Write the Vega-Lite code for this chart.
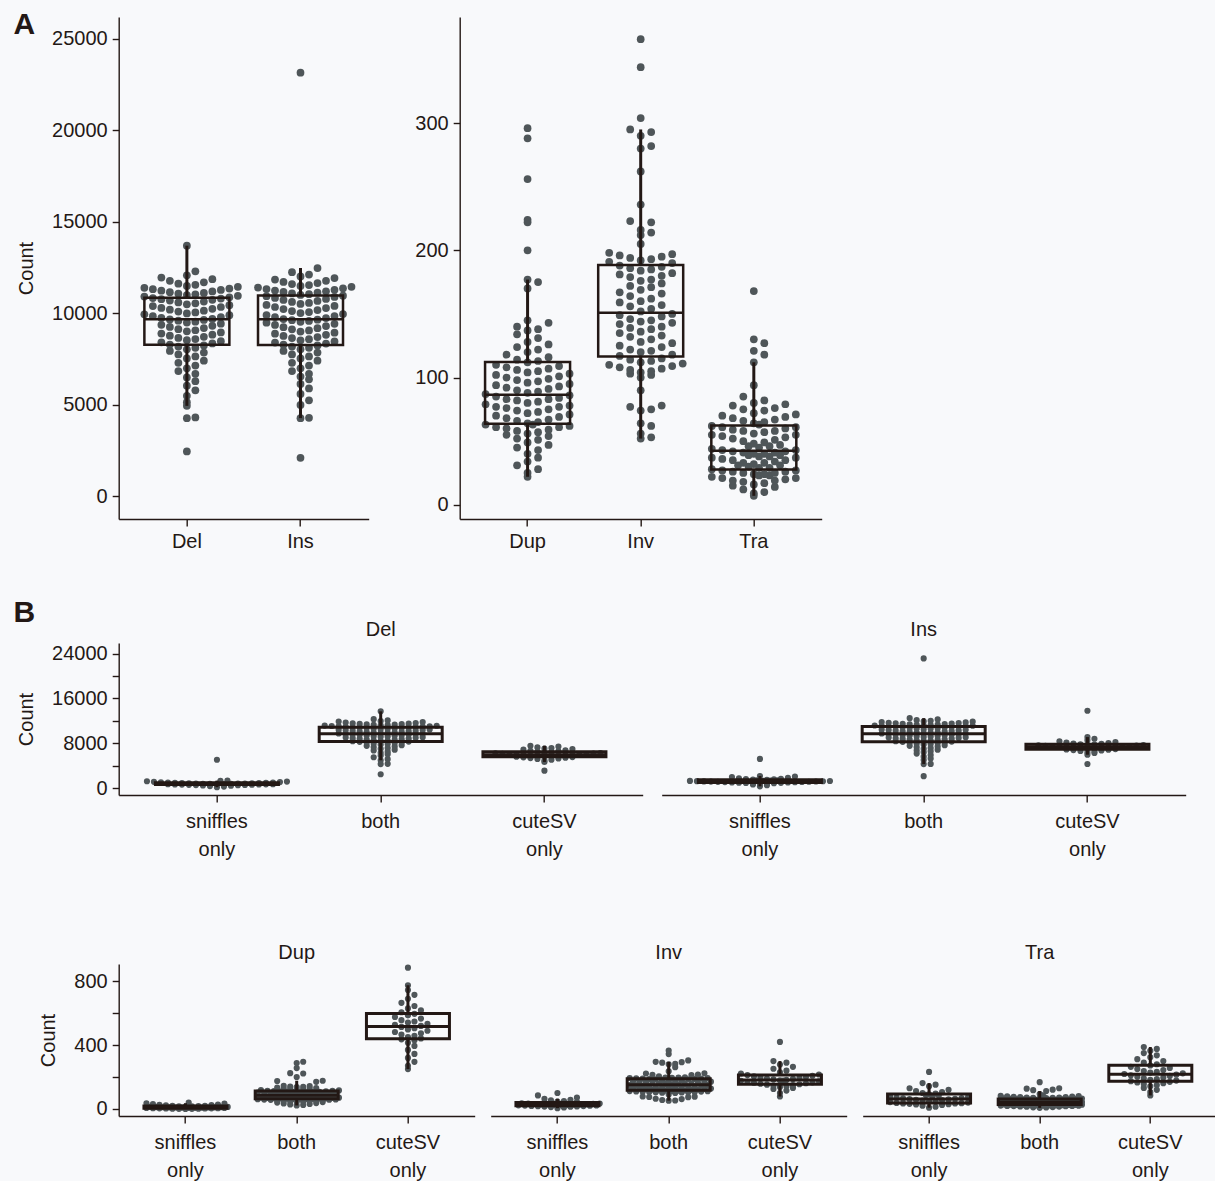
{
"$schema":"https://vega.github.io/schema/vega-lite/v6.json",
"background":"#f8f9fb",
"padding":{"left":12.7,"top":10,"right":0,"bottom":0},
"data":{"values":[
{"t":"Del","g":"b","v":2460},{"t":"Del","g":"b","v":4280},{"t":"Del","g":"b","v":4320},{"t":"Del","g":"b","v":4950},{"t":"Del","g":"b","v":5150},{"t":"Del","g":"b","v":5500},{"t":"Del","g":"b","v":5800},{"t":"Del","g":"b","v":6050},{"t":"Del","g":"b","v":6300},{"t":"Del","g":"b","v":6500},
{"t":"Del","g":"b","v":6700},{"t":"Del","g":"b","v":6850},{"t":"Del","g":"b","v":7000},{"t":"Del","g":"b","v":7150},{"t":"Del","g":"b","v":7300},{"t":"Del","g":"b","v":7420},{"t":"Del","g":"b","v":7540},{"t":"Del","g":"b","v":7650},{"t":"Del","g":"b","v":7760},{"t":"Del","g":"b","v":7860},
{"t":"Del","g":"b","v":7950},{"t":"Del","g":"b","v":8040},{"t":"Del","g":"b","v":8120},{"t":"Del","g":"b","v":8190},{"t":"Del","g":"b","v":8250},{"t":"Del","g":"b","v":8300},{"t":"Del","g":"b","v":8360},{"t":"Del","g":"b","v":8420},{"t":"Del","g":"b","v":8480},{"t":"Del","g":"b","v":8540},
{"t":"Del","g":"b","v":8600},{"t":"Del","g":"b","v":8660},{"t":"Del","g":"b","v":8720},{"t":"Del","g":"b","v":8780},{"t":"Del","g":"b","v":8840},{"t":"Del","g":"b","v":8900},{"t":"Del","g":"b","v":8960},{"t":"Del","g":"b","v":9020},{"t":"Del","g":"b","v":9080},{"t":"Del","g":"b","v":9140},
{"t":"Del","g":"b","v":9200},{"t":"Del","g":"b","v":9260},{"t":"Del","g":"b","v":9320},{"t":"Del","g":"b","v":9380},{"t":"Del","g":"b","v":9440},{"t":"Del","g":"b","v":9500},{"t":"Del","g":"b","v":9550},{"t":"Del","g":"b","v":9600},{"t":"Del","g":"b","v":9640},{"t":"Del","g":"b","v":9670},
{"t":"Del","g":"b","v":9700},{"t":"Del","g":"b","v":9750},{"t":"Del","g":"b","v":9800},{"t":"Del","g":"b","v":9850},{"t":"Del","g":"b","v":9900},{"t":"Del","g":"b","v":9950},{"t":"Del","g":"b","v":10000},{"t":"Del","g":"b","v":10050},{"t":"Del","g":"b","v":10100},{"t":"Del","g":"b","v":10150},
{"t":"Del","g":"b","v":10200},{"t":"Del","g":"b","v":10250},{"t":"Del","g":"b","v":10300},{"t":"Del","g":"b","v":10350},{"t":"Del","g":"b","v":10400},{"t":"Del","g":"b","v":10450},{"t":"Del","g":"b","v":10500},{"t":"Del","g":"b","v":10550},{"t":"Del","g":"b","v":10600},{"t":"Del","g":"b","v":10650},
{"t":"Del","g":"b","v":10700},{"t":"Del","g":"b","v":10740},{"t":"Del","g":"b","v":10780},{"t":"Del","g":"b","v":10810},{"t":"Del","g":"b","v":10840},{"t":"Del","g":"b","v":10880},{"t":"Del","g":"b","v":10920},{"t":"Del","g":"b","v":10960},{"t":"Del","g":"b","v":11000},{"t":"Del","g":"b","v":11040},
{"t":"Del","g":"b","v":11080},{"t":"Del","g":"b","v":11120},{"t":"Del","g":"b","v":11160},{"t":"Del","g":"b","v":11200},{"t":"Del","g":"b","v":11240},{"t":"Del","g":"b","v":11280},{"t":"Del","g":"b","v":11320},{"t":"Del","g":"b","v":11360},{"t":"Del","g":"b","v":11400},{"t":"Del","g":"b","v":11450},
{"t":"Del","g":"b","v":11500},{"t":"Del","g":"b","v":11560},{"t":"Del","g":"b","v":11620},{"t":"Del","g":"b","v":11700},{"t":"Del","g":"b","v":11780},{"t":"Del","g":"b","v":11870},{"t":"Del","g":"b","v":11960},{"t":"Del","g":"b","v":12080},{"t":"Del","g":"b","v":12300},{"t":"Del","g":"b","v":13700},
{"t":"Ins","g":"b","v":2110},{"t":"Ins","g":"b","v":4280},{"t":"Ins","g":"b","v":4300},{"t":"Ins","g":"b","v":5000},{"t":"Ins","g":"b","v":5250},{"t":"Ins","g":"b","v":5600},{"t":"Ins","g":"b","v":5900},{"t":"Ins","g":"b","v":6150},{"t":"Ins","g":"b","v":6400},{"t":"Ins","g":"b","v":6550},
{"t":"Ins","g":"b","v":6700},{"t":"Ins","g":"b","v":6850},{"t":"Ins","g":"b","v":7000},{"t":"Ins","g":"b","v":7150},{"t":"Ins","g":"b","v":7300},{"t":"Ins","g":"b","v":7420},{"t":"Ins","g":"b","v":7540},{"t":"Ins","g":"b","v":7650},{"t":"Ins","g":"b","v":7760},{"t":"Ins","g":"b","v":7860},
{"t":"Ins","g":"b","v":7950},{"t":"Ins","g":"b","v":8040},{"t":"Ins","g":"b","v":8120},{"t":"Ins","g":"b","v":8190},{"t":"Ins","g":"b","v":8250},{"t":"Ins","g":"b","v":8290},{"t":"Ins","g":"b","v":8350},{"t":"Ins","g":"b","v":8410},{"t":"Ins","g":"b","v":8470},{"t":"Ins","g":"b","v":8530},
{"t":"Ins","g":"b","v":8590},{"t":"Ins","g":"b","v":8650},{"t":"Ins","g":"b","v":8710},{"t":"Ins","g":"b","v":8770},{"t":"Ins","g":"b","v":8830},{"t":"Ins","g":"b","v":8890},{"t":"Ins","g":"b","v":8950},{"t":"Ins","g":"b","v":9010},{"t":"Ins","g":"b","v":9070},{"t":"Ins","g":"b","v":9130},
{"t":"Ins","g":"b","v":9190},{"t":"Ins","g":"b","v":9250},{"t":"Ins","g":"b","v":9310},{"t":"Ins","g":"b","v":9370},{"t":"Ins","g":"b","v":9430},{"t":"Ins","g":"b","v":9490},{"t":"Ins","g":"b","v":9540},{"t":"Ins","g":"b","v":9590},{"t":"Ins","g":"b","v":9630},{"t":"Ins","g":"b","v":9660},
{"t":"Ins","g":"b","v":9690},{"t":"Ins","g":"b","v":9745},{"t":"Ins","g":"b","v":9800},{"t":"Ins","g":"b","v":9855},{"t":"Ins","g":"b","v":9910},{"t":"Ins","g":"b","v":9965},{"t":"Ins","g":"b","v":10020},{"t":"Ins","g":"b","v":10075},{"t":"Ins","g":"b","v":10130},{"t":"Ins","g":"b","v":10185},
{"t":"Ins","g":"b","v":10240},{"t":"Ins","g":"b","v":10295},{"t":"Ins","g":"b","v":10350},{"t":"Ins","g":"b","v":10405},{"t":"Ins","g":"b","v":10460},{"t":"Ins","g":"b","v":10515},{"t":"Ins","g":"b","v":10570},{"t":"Ins","g":"b","v":10625},{"t":"Ins","g":"b","v":10680},{"t":"Ins","g":"b","v":10735},
{"t":"Ins","g":"b","v":10790},{"t":"Ins","g":"b","v":10845},{"t":"Ins","g":"b","v":10900},{"t":"Ins","g":"b","v":10940},{"t":"Ins","g":"b","v":10970},{"t":"Ins","g":"b","v":11010},{"t":"Ins","g":"b","v":11050},{"t":"Ins","g":"b","v":11090},{"t":"Ins","g":"b","v":11130},{"t":"Ins","g":"b","v":11170},
{"t":"Ins","g":"b","v":11210},{"t":"Ins","g":"b","v":11250},{"t":"Ins","g":"b","v":11290},{"t":"Ins","g":"b","v":11330},{"t":"Ins","g":"b","v":11370},{"t":"Ins","g":"b","v":11410},{"t":"Ins","g":"b","v":11450},{"t":"Ins","g":"b","v":11500},{"t":"Ins","g":"b","v":11550},{"t":"Ins","g":"b","v":11600},
{"t":"Ins","g":"b","v":11660},{"t":"Ins","g":"b","v":11720},{"t":"Ins","g":"b","v":11780},{"t":"Ins","g":"b","v":11850},{"t":"Ins","g":"b","v":11930},{"t":"Ins","g":"b","v":12020},{"t":"Ins","g":"b","v":12120},{"t":"Ins","g":"b","v":12250},{"t":"Ins","g":"b","v":12480},{"t":"Ins","g":"b","v":23150},
{"t":"Dup","g":"b","v":22},{"t":"Dup","g":"b","v":25},{"t":"Dup","g":"b","v":28},{"t":"Dup","g":"b","v":31},{"t":"Dup","g":"b","v":34},{"t":"Dup","g":"b","v":37},{"t":"Dup","g":"b","v":40},{"t":"Dup","g":"b","v":43},{"t":"Dup","g":"b","v":45},{"t":"Dup","g":"b","v":47},
{"t":"Dup","g":"b","v":49},{"t":"Dup","g":"b","v":51},{"t":"Dup","g":"b","v":52},{"t":"Dup","g":"b","v":54},{"t":"Dup","g":"b","v":55},{"t":"Dup","g":"b","v":56},{"t":"Dup","g":"b","v":57},{"t":"Dup","g":"b","v":58},{"t":"Dup","g":"b","v":59},{"t":"Dup","g":"b","v":60},
{"t":"Dup","g":"b","v":61},{"t":"Dup","g":"b","v":61},{"t":"Dup","g":"b","v":62},{"t":"Dup","g":"b","v":63},{"t":"Dup","g":"b","v":63},{"t":"Dup","g":"b","v":64},{"t":"Dup","g":"b","v":65},{"t":"Dup","g":"b","v":66},{"t":"Dup","g":"b","v":67},{"t":"Dup","g":"b","v":68},
{"t":"Dup","g":"b","v":69},{"t":"Dup","g":"b","v":70},{"t":"Dup","g":"b","v":71},{"t":"Dup","g":"b","v":72},{"t":"Dup","g":"b","v":73},{"t":"Dup","g":"b","v":74},{"t":"Dup","g":"b","v":75},{"t":"Dup","g":"b","v":76},{"t":"Dup","g":"b","v":77},{"t":"Dup","g":"b","v":77},
{"t":"Dup","g":"b","v":78},{"t":"Dup","g":"b","v":79},{"t":"Dup","g":"b","v":80},{"t":"Dup","g":"b","v":81},{"t":"Dup","g":"b","v":82},{"t":"Dup","g":"b","v":83},{"t":"Dup","g":"b","v":83},{"t":"Dup","g":"b","v":84},{"t":"Dup","g":"b","v":85},{"t":"Dup","g":"b","v":86},
{"t":"Dup","g":"b","v":87},{"t":"Dup","g":"b","v":88},{"t":"Dup","g":"b","v":89},{"t":"Dup","g":"b","v":90},{"t":"Dup","g":"b","v":91},{"t":"Dup","g":"b","v":92},{"t":"Dup","g":"b","v":93},{"t":"Dup","g":"b","v":94},{"t":"Dup","g":"b","v":95},{"t":"Dup","g":"b","v":96},
{"t":"Dup","g":"b","v":97},{"t":"Dup","g":"b","v":98},{"t":"Dup","g":"b","v":99},{"t":"Dup","g":"b","v":100},{"t":"Dup","g":"b","v":101},{"t":"Dup","g":"b","v":102},{"t":"Dup","g":"b","v":103},{"t":"Dup","g":"b","v":104},{"t":"Dup","g":"b","v":105},{"t":"Dup","g":"b","v":106},
{"t":"Dup","g":"b","v":107},{"t":"Dup","g":"b","v":108},{"t":"Dup","g":"b","v":109},{"t":"Dup","g":"b","v":110},{"t":"Dup","g":"b","v":112},{"t":"Dup","g":"b","v":113},{"t":"Dup","g":"b","v":114},{"t":"Dup","g":"b","v":116},{"t":"Dup","g":"b","v":118},{"t":"Dup","g":"b","v":120},
{"t":"Dup","g":"b","v":122},{"t":"Dup","g":"b","v":124},{"t":"Dup","g":"b","v":126},{"t":"Dup","g":"b","v":128},{"t":"Dup","g":"b","v":131},{"t":"Dup","g":"b","v":134},{"t":"Dup","g":"b","v":137},{"t":"Dup","g":"b","v":138},{"t":"Dup","g":"b","v":140},{"t":"Dup","g":"b","v":143},
{"t":"Dup","g":"b","v":145},{"t":"Dup","g":"b","v":170},{"t":"Dup","g":"b","v":175},{"t":"Dup","g":"b","v":177},{"t":"Dup","g":"b","v":200},{"t":"Dup","g":"b","v":222},{"t":"Dup","g":"b","v":224},{"t":"Dup","g":"b","v":256},{"t":"Dup","g":"b","v":288},{"t":"Dup","g":"b","v":296},
{"t":"Inv","g":"b","v":52},{"t":"Inv","g":"b","v":53},{"t":"Inv","g":"b","v":56},{"t":"Inv","g":"b","v":62},{"t":"Inv","g":"b","v":64},{"t":"Inv","g":"b","v":74},{"t":"Inv","g":"b","v":75},{"t":"Inv","g":"b","v":77},{"t":"Inv","g":"b","v":78},{"t":"Inv","g":"b","v":90},
{"t":"Inv","g":"b","v":100},{"t":"Inv","g":"b","v":102},{"t":"Inv","g":"b","v":103},{"t":"Inv","g":"b","v":104},{"t":"Inv","g":"b","v":105},{"t":"Inv","g":"b","v":106},{"t":"Inv","g":"b","v":107},{"t":"Inv","g":"b","v":108},{"t":"Inv","g":"b","v":109},{"t":"Inv","g":"b","v":110},
{"t":"Inv","g":"b","v":111},{"t":"Inv","g":"b","v":112},{"t":"Inv","g":"b","v":113},{"t":"Inv","g":"b","v":114},{"t":"Inv","g":"b","v":115},{"t":"Inv","g":"b","v":117},{"t":"Inv","g":"b","v":118},{"t":"Inv","g":"b","v":120},{"t":"Inv","g":"b","v":121},{"t":"Inv","g":"b","v":122},
{"t":"Inv","g":"b","v":124},{"t":"Inv","g":"b","v":125},{"t":"Inv","g":"b","v":127},{"t":"Inv","g":"b","v":128},{"t":"Inv","g":"b","v":130},{"t":"Inv","g":"b","v":132},{"t":"Inv","g":"b","v":133},{"t":"Inv","g":"b","v":135},{"t":"Inv","g":"b","v":136},{"t":"Inv","g":"b","v":138},
{"t":"Inv","g":"b","v":139},{"t":"Inv","g":"b","v":140},{"t":"Inv","g":"b","v":142},{"t":"Inv","g":"b","v":143},{"t":"Inv","g":"b","v":144},{"t":"Inv","g":"b","v":145},{"t":"Inv","g":"b","v":146},{"t":"Inv","g":"b","v":148},{"t":"Inv","g":"b","v":149},{"t":"Inv","g":"b","v":150},
{"t":"Inv","g":"b","v":152},{"t":"Inv","g":"b","v":154},{"t":"Inv","g":"b","v":156},{"t":"Inv","g":"b","v":157},{"t":"Inv","g":"b","v":159},{"t":"Inv","g":"b","v":160},{"t":"Inv","g":"b","v":162},{"t":"Inv","g":"b","v":164},{"t":"Inv","g":"b","v":166},{"t":"Inv","g":"b","v":167},
{"t":"Inv","g":"b","v":169},{"t":"Inv","g":"b","v":171},{"t":"Inv","g":"b","v":172},{"t":"Inv","g":"b","v":174},{"t":"Inv","g":"b","v":176},{"t":"Inv","g":"b","v":177},{"t":"Inv","g":"b","v":179},{"t":"Inv","g":"b","v":180},{"t":"Inv","g":"b","v":181},{"t":"Inv","g":"b","v":182},
{"t":"Inv","g":"b","v":184},{"t":"Inv","g":"b","v":185},{"t":"Inv","g":"b","v":186},{"t":"Inv","g":"b","v":187},{"t":"Inv","g":"b","v":188},{"t":"Inv","g":"b","v":190},{"t":"Inv","g":"b","v":191},{"t":"Inv","g":"b","v":192},{"t":"Inv","g":"b","v":193},{"t":"Inv","g":"b","v":194},
{"t":"Inv","g":"b","v":195},{"t":"Inv","g":"b","v":196},{"t":"Inv","g":"b","v":197},{"t":"Inv","g":"b","v":198},{"t":"Inv","g":"b","v":205},{"t":"Inv","g":"b","v":212},{"t":"Inv","g":"b","v":214},{"t":"Inv","g":"b","v":216},{"t":"Inv","g":"b","v":222},{"t":"Inv","g":"b","v":223},
{"t":"Inv","g":"b","v":236},{"t":"Inv","g":"b","v":262},{"t":"Inv","g":"b","v":280},{"t":"Inv","g":"b","v":282},{"t":"Inv","g":"b","v":290},{"t":"Inv","g":"b","v":293},{"t":"Inv","g":"b","v":295},{"t":"Inv","g":"b","v":304},{"t":"Inv","g":"b","v":344},{"t":"Inv","g":"b","v":366},
{"t":"Tra","g":"b","v":7},{"t":"Tra","g":"b","v":9},{"t":"Tra","g":"b","v":10},{"t":"Tra","g":"b","v":12},{"t":"Tra","g":"b","v":14},{"t":"Tra","g":"b","v":15},{"t":"Tra","g":"b","v":16},{"t":"Tra","g":"b","v":17},{"t":"Tra","g":"b","v":18},{"t":"Tra","g":"b","v":19},
{"t":"Tra","g":"b","v":19},{"t":"Tra","g":"b","v":20},{"t":"Tra","g":"b","v":21},{"t":"Tra","g":"b","v":21},{"t":"Tra","g":"b","v":22},{"t":"Tra","g":"b","v":23},{"t":"Tra","g":"b","v":23},{"t":"Tra","g":"b","v":24},{"t":"Tra","g":"b","v":24},{"t":"Tra","g":"b","v":25},
{"t":"Tra","g":"b","v":25},{"t":"Tra","g":"b","v":26},{"t":"Tra","g":"b","v":26},{"t":"Tra","g":"b","v":27},{"t":"Tra","g":"b","v":27},{"t":"Tra","g":"b","v":28},{"t":"Tra","g":"b","v":29},{"t":"Tra","g":"b","v":29},{"t":"Tra","g":"b","v":30},{"t":"Tra","g":"b","v":31},
{"t":"Tra","g":"b","v":31},{"t":"Tra","g":"b","v":32},{"t":"Tra","g":"b","v":33},{"t":"Tra","g":"b","v":33},{"t":"Tra","g":"b","v":34},{"t":"Tra","g":"b","v":35},{"t":"Tra","g":"b","v":35},{"t":"Tra","g":"b","v":36},{"t":"Tra","g":"b","v":37},{"t":"Tra","g":"b","v":37},
{"t":"Tra","g":"b","v":38},{"t":"Tra","g":"b","v":38},{"t":"Tra","g":"b","v":39},{"t":"Tra","g":"b","v":39},{"t":"Tra","g":"b","v":40},{"t":"Tra","g":"b","v":40},{"t":"Tra","g":"b","v":41},{"t":"Tra","g":"b","v":41},{"t":"Tra","g":"b","v":42},{"t":"Tra","g":"b","v":42},
{"t":"Tra","g":"b","v":43},{"t":"Tra","g":"b","v":43},{"t":"Tra","g":"b","v":44},{"t":"Tra","g":"b","v":45},{"t":"Tra","g":"b","v":46},{"t":"Tra","g":"b","v":46},{"t":"Tra","g":"b","v":47},{"t":"Tra","g":"b","v":48},{"t":"Tra","g":"b","v":49},{"t":"Tra","g":"b","v":50},
{"t":"Tra","g":"b","v":51},{"t":"Tra","g":"b","v":52},{"t":"Tra","g":"b","v":53},{"t":"Tra","g":"b","v":54},{"t":"Tra","g":"b","v":55},{"t":"Tra","g":"b","v":55},{"t":"Tra","g":"b","v":56},{"t":"Tra","g":"b","v":57},{"t":"Tra","g":"b","v":58},{"t":"Tra","g":"b","v":58},
{"t":"Tra","g":"b","v":59},{"t":"Tra","g":"b","v":60},{"t":"Tra","g":"b","v":61},{"t":"Tra","g":"b","v":61},{"t":"Tra","g":"b","v":62},{"t":"Tra","g":"b","v":63},{"t":"Tra","g":"b","v":64},{"t":"Tra","g":"b","v":65},{"t":"Tra","g":"b","v":66},{"t":"Tra","g":"b","v":67},
{"t":"Tra","g":"b","v":68},{"t":"Tra","g":"b","v":69},{"t":"Tra","g":"b","v":70},{"t":"Tra","g":"b","v":71},{"t":"Tra","g":"b","v":72},{"t":"Tra","g":"b","v":74},{"t":"Tra","g":"b","v":75},{"t":"Tra","g":"b","v":76},{"t":"Tra","g":"b","v":78},{"t":"Tra","g":"b","v":79},
{"t":"Tra","g":"b","v":80},{"t":"Tra","g":"b","v":82},{"t":"Tra","g":"b","v":85},{"t":"Tra","g":"b","v":94},{"t":"Tra","g":"b","v":112},{"t":"Tra","g":"b","v":118},{"t":"Tra","g":"b","v":121},{"t":"Tra","g":"b","v":127},{"t":"Tra","g":"b","v":130},{"t":"Tra","g":"b","v":168},
{"t":"Del","g":"s","v":150},{"t":"Del","g":"s","v":260},{"t":"Del","g":"s","v":340},{"t":"Del","g":"s","v":400},{"t":"Del","g":"s","v":450},{"t":"Del","g":"s","v":490},{"t":"Del","g":"s","v":520},{"t":"Del","g":"s","v":545},{"t":"Del","g":"s","v":570},{"t":"Del","g":"s","v":590},
{"t":"Del","g":"s","v":610},{"t":"Del","g":"s","v":625},{"t":"Del","g":"s","v":640},{"t":"Del","g":"s","v":655},{"t":"Del","g":"s","v":670},{"t":"Del","g":"s","v":685},{"t":"Del","g":"s","v":700},{"t":"Del","g":"s","v":715},{"t":"Del","g":"s","v":730},{"t":"Del","g":"s","v":745},
{"t":"Del","g":"s","v":760},{"t":"Del","g":"s","v":775},{"t":"Del","g":"s","v":790},{"t":"Del","g":"s","v":805},{"t":"Del","g":"s","v":820},{"t":"Del","g":"s","v":840},{"t":"Del","g":"s","v":860},{"t":"Del","g":"s","v":880},{"t":"Del","g":"s","v":905},{"t":"Del","g":"s","v":930},
{"t":"Del","g":"s","v":960},{"t":"Del","g":"s","v":990},{"t":"Del","g":"s","v":1020},{"t":"Del","g":"s","v":1060},{"t":"Del","g":"s","v":1100},{"t":"Del","g":"s","v":1150},{"t":"Del","g":"s","v":1200},{"t":"Del","g":"s","v":1260},{"t":"Del","g":"s","v":1320},{"t":"Del","g":"s","v":5050},
{"t":"Del","g":"c","v":3100},{"t":"Del","g":"c","v":4650},{"t":"Del","g":"c","v":4900},{"t":"Del","g":"c","v":5050},{"t":"Del","g":"c","v":5180},{"t":"Del","g":"c","v":5270},{"t":"Del","g":"c","v":5350},{"t":"Del","g":"c","v":5420},{"t":"Del","g":"c","v":5480},{"t":"Del","g":"c","v":5530},
{"t":"Del","g":"c","v":5580},{"t":"Del","g":"c","v":5620},{"t":"Del","g":"c","v":5660},{"t":"Del","g":"c","v":5700},{"t":"Del","g":"c","v":5740},{"t":"Del","g":"c","v":5780},{"t":"Del","g":"c","v":5820},{"t":"Del","g":"c","v":5860},{"t":"Del","g":"c","v":5900},{"t":"Del","g":"c","v":5940},
{"t":"Del","g":"c","v":5980},{"t":"Del","g":"c","v":6020},{"t":"Del","g":"c","v":6060},{"t":"Del","g":"c","v":6100},{"t":"Del","g":"c","v":6150},{"t":"Del","g":"c","v":6200},{"t":"Del","g":"c","v":6260},{"t":"Del","g":"c","v":6320},{"t":"Del","g":"c","v":6400},{"t":"Del","g":"c","v":6480},
{"t":"Del","g":"c","v":6560},{"t":"Del","g":"c","v":6650},{"t":"Del","g":"c","v":6750},{"t":"Del","g":"c","v":6850},{"t":"Del","g":"c","v":6950},{"t":"Del","g":"c","v":7050},{"t":"Del","g":"c","v":7150},{"t":"Del","g":"c","v":7250},{"t":"Del","g":"c","v":7400},{"t":"Del","g":"c","v":7550},
{"t":"Ins","g":"s","v":300},{"t":"Ins","g":"s","v":500},{"t":"Ins","g":"s","v":620},{"t":"Ins","g":"s","v":700},{"t":"Ins","g":"s","v":760},{"t":"Ins","g":"s","v":810},{"t":"Ins","g":"s","v":850},{"t":"Ins","g":"s","v":890},{"t":"Ins","g":"s","v":920},{"t":"Ins","g":"s","v":950},
{"t":"Ins","g":"s","v":980},{"t":"Ins","g":"s","v":1005},{"t":"Ins","g":"s","v":1030},{"t":"Ins","g":"s","v":1055},{"t":"Ins","g":"s","v":1080},{"t":"Ins","g":"s","v":1100},{"t":"Ins","g":"s","v":1120},{"t":"Ins","g":"s","v":1140},{"t":"Ins","g":"s","v":1160},{"t":"Ins","g":"s","v":1180},
{"t":"Ins","g":"s","v":1200},{"t":"Ins","g":"s","v":1220},{"t":"Ins","g":"s","v":1245},{"t":"Ins","g":"s","v":1270},{"t":"Ins","g":"s","v":1295},{"t":"Ins","g":"s","v":1320},{"t":"Ins","g":"s","v":1350},{"t":"Ins","g":"s","v":1380},{"t":"Ins","g":"s","v":1410},{"t":"Ins","g":"s","v":1450},
{"t":"Ins","g":"s","v":1490},{"t":"Ins","g":"s","v":1540},{"t":"Ins","g":"s","v":1600},{"t":"Ins","g":"s","v":1660},{"t":"Ins","g":"s","v":1740},{"t":"Ins","g":"s","v":1830},{"t":"Ins","g":"s","v":1950},{"t":"Ins","g":"s","v":2050},{"t":"Ins","g":"s","v":2150},{"t":"Ins","g":"s","v":5200},
{"t":"Ins","g":"c","v":4290},{"t":"Ins","g":"c","v":5950},{"t":"Ins","g":"c","v":6250},{"t":"Ins","g":"c","v":6400},{"t":"Ins","g":"c","v":6520},{"t":"Ins","g":"c","v":6620},{"t":"Ins","g":"c","v":6700},{"t":"Ins","g":"c","v":6770},{"t":"Ins","g":"c","v":6840},{"t":"Ins","g":"c","v":6900},
{"t":"Ins","g":"c","v":6960},{"t":"Ins","g":"c","v":7010},{"t":"Ins","g":"c","v":7060},{"t":"Ins","g":"c","v":7110},{"t":"Ins","g":"c","v":7160},{"t":"Ins","g":"c","v":7200},{"t":"Ins","g":"c","v":7240},{"t":"Ins","g":"c","v":7280},{"t":"Ins","g":"c","v":7320},{"t":"Ins","g":"c","v":7360},
{"t":"Ins","g":"c","v":7400},{"t":"Ins","g":"c","v":7440},{"t":"Ins","g":"c","v":7480},{"t":"Ins","g":"c","v":7520},{"t":"Ins","g":"c","v":7560},{"t":"Ins","g":"c","v":7610},{"t":"Ins","g":"c","v":7660},{"t":"Ins","g":"c","v":7710},{"t":"Ins","g":"c","v":7760},{"t":"Ins","g":"c","v":7820},
{"t":"Ins","g":"c","v":7880},{"t":"Ins","g":"c","v":7950},{"t":"Ins","g":"c","v":8030},{"t":"Ins","g":"c","v":8120},{"t":"Ins","g":"c","v":8220},{"t":"Ins","g":"c","v":8350},{"t":"Ins","g":"c","v":8550},{"t":"Ins","g":"c","v":8800},{"t":"Ins","g":"c","v":9100},{"t":"Ins","g":"c","v":13800},
{"t":"Dup","g":"s","v":0},{"t":"Dup","g":"s","v":1},{"t":"Dup","g":"s","v":1},{"t":"Dup","g":"s","v":2},{"t":"Dup","g":"s","v":2},{"t":"Dup","g":"s","v":3},{"t":"Dup","g":"s","v":3},{"t":"Dup","g":"s","v":4},{"t":"Dup","g":"s","v":4},{"t":"Dup","g":"s","v":5},
{"t":"Dup","g":"s","v":5},{"t":"Dup","g":"s","v":6},{"t":"Dup","g":"s","v":6},{"t":"Dup","g":"s","v":7},{"t":"Dup","g":"s","v":7},{"t":"Dup","g":"s","v":8},{"t":"Dup","g":"s","v":8},{"t":"Dup","g":"s","v":9},{"t":"Dup","g":"s","v":9},{"t":"Dup","g":"s","v":10},
{"t":"Dup","g":"s","v":10},{"t":"Dup","g":"s","v":11},{"t":"Dup","g":"s","v":11},{"t":"Dup","g":"s","v":12},{"t":"Dup","g":"s","v":13},{"t":"Dup","g":"s","v":14},{"t":"Dup","g":"s","v":15},{"t":"Dup","g":"s","v":16},{"t":"Dup","g":"s","v":17},{"t":"Dup","g":"s","v":18},
{"t":"Dup","g":"s","v":19},{"t":"Dup","g":"s","v":20},{"t":"Dup","g":"s","v":22},{"t":"Dup","g":"s","v":24},{"t":"Dup","g":"s","v":26},{"t":"Dup","g":"s","v":28},{"t":"Dup","g":"s","v":30},{"t":"Dup","g":"s","v":33},{"t":"Dup","g":"s","v":36},{"t":"Dup","g":"s","v":40},
{"t":"Dup","g":"c","v":250},{"t":"Dup","g":"c","v":270},{"t":"Dup","g":"c","v":295},{"t":"Dup","g":"c","v":320},{"t":"Dup","g":"c","v":345},{"t":"Dup","g":"c","v":370},{"t":"Dup","g":"c","v":395},{"t":"Dup","g":"c","v":415},{"t":"Dup","g":"c","v":430},{"t":"Dup","g":"c","v":436},
{"t":"Dup","g":"c","v":442},{"t":"Dup","g":"c","v":450},{"t":"Dup","g":"c","v":458},{"t":"Dup","g":"c","v":466},{"t":"Dup","g":"c","v":474},{"t":"Dup","g":"c","v":482},{"t":"Dup","g":"c","v":490},{"t":"Dup","g":"c","v":498},{"t":"Dup","g":"c","v":506},{"t":"Dup","g":"c","v":514},
{"t":"Dup","g":"c","v":520},{"t":"Dup","g":"c","v":527},{"t":"Dup","g":"c","v":534},{"t":"Dup","g":"c","v":541},{"t":"Dup","g":"c","v":548},{"t":"Dup","g":"c","v":556},{"t":"Dup","g":"c","v":566},{"t":"Dup","g":"c","v":576},{"t":"Dup","g":"c","v":586},{"t":"Dup","g":"c","v":596},
{"t":"Dup","g":"c","v":606},{"t":"Dup","g":"c","v":618},{"t":"Dup","g":"c","v":630},{"t":"Dup","g":"c","v":645},{"t":"Dup","g":"c","v":665},{"t":"Dup","g":"c","v":690},{"t":"Dup","g":"c","v":715},{"t":"Dup","g":"c","v":745},{"t":"Dup","g":"c","v":775},{"t":"Dup","g":"c","v":885},
{"t":"Inv","g":"s","v":5},{"t":"Inv","g":"s","v":9},{"t":"Inv","g":"s","v":12},{"t":"Inv","g":"s","v":14},{"t":"Inv","g":"s","v":15},{"t":"Inv","g":"s","v":16},{"t":"Inv","g":"s","v":17},{"t":"Inv","g":"s","v":18},{"t":"Inv","g":"s","v":19},{"t":"Inv","g":"s","v":20},
{"t":"Inv","g":"s","v":21},{"t":"Inv","g":"s","v":22},{"t":"Inv","g":"s","v":23},{"t":"Inv","g":"s","v":24},{"t":"Inv","g":"s","v":25},{"t":"Inv","g":"s","v":26},{"t":"Inv","g":"s","v":27},{"t":"Inv","g":"s","v":28},{"t":"Inv","g":"s","v":28},{"t":"Inv","g":"s","v":29},
{"t":"Inv","g":"s","v":30},{"t":"Inv","g":"s","v":31},{"t":"Inv","g":"s","v":32},{"t":"Inv","g":"s","v":33},{"t":"Inv","g":"s","v":34},{"t":"Inv","g":"s","v":35},{"t":"Inv","g":"s","v":36},{"t":"Inv","g":"s","v":37},{"t":"Inv","g":"s","v":38},{"t":"Inv","g":"s","v":40},
{"t":"Inv","g":"s","v":42},{"t":"Inv","g":"s","v":44},{"t":"Inv","g":"s","v":47},{"t":"Inv","g":"s","v":50},{"t":"Inv","g":"s","v":54},{"t":"Inv","g":"s","v":58},{"t":"Inv","g":"s","v":64},{"t":"Inv","g":"s","v":72},{"t":"Inv","g":"s","v":85},{"t":"Inv","g":"s","v":100},
{"t":"Inv","g":"c","v":78},{"t":"Inv","g":"c","v":100},{"t":"Inv","g":"c","v":115},{"t":"Inv","g":"c","v":125},{"t":"Inv","g":"c","v":132},{"t":"Inv","g":"c","v":138},{"t":"Inv","g":"c","v":142},{"t":"Inv","g":"c","v":146},{"t":"Inv","g":"c","v":149},{"t":"Inv","g":"c","v":152},
{"t":"Inv","g":"c","v":155},{"t":"Inv","g":"c","v":158},{"t":"Inv","g":"c","v":161},{"t":"Inv","g":"c","v":164},{"t":"Inv","g":"c","v":167},{"t":"Inv","g":"c","v":170},{"t":"Inv","g":"c","v":173},{"t":"Inv","g":"c","v":176},{"t":"Inv","g":"c","v":178},{"t":"Inv","g":"c","v":180},
{"t":"Inv","g":"c","v":182},{"t":"Inv","g":"c","v":185},{"t":"Inv","g":"c","v":188},{"t":"Inv","g":"c","v":191},{"t":"Inv","g":"c","v":194},{"t":"Inv","g":"c","v":197},{"t":"Inv","g":"c","v":200},{"t":"Inv","g":"c","v":204},{"t":"Inv","g":"c","v":208},{"t":"Inv","g":"c","v":212},
{"t":"Inv","g":"c","v":216},{"t":"Inv","g":"c","v":222},{"t":"Inv","g":"c","v":230},{"t":"Inv","g":"c","v":240},{"t":"Inv","g":"c","v":252},{"t":"Inv","g":"c","v":264},{"t":"Inv","g":"c","v":278},{"t":"Inv","g":"c","v":290},{"t":"Inv","g":"c","v":300},{"t":"Inv","g":"c","v":420},
{"t":"Tra","g":"s","v":8},{"t":"Tra","g":"s","v":14},{"t":"Tra","g":"s","v":20},{"t":"Tra","g":"s","v":25},{"t":"Tra","g":"s","v":28},{"t":"Tra","g":"s","v":30},{"t":"Tra","g":"s","v":32},{"t":"Tra","g":"s","v":34},{"t":"Tra","g":"s","v":35},{"t":"Tra","g":"s","v":36},
{"t":"Tra","g":"s","v":38},{"t":"Tra","g":"s","v":40},{"t":"Tra","g":"s","v":43},{"t":"Tra","g":"s","v":46},{"t":"Tra","g":"s","v":49},{"t":"Tra","g":"s","v":52},{"t":"Tra","g":"s","v":55},{"t":"Tra","g":"s","v":58},{"t":"Tra","g":"s","v":60},{"t":"Tra","g":"s","v":62},
{"t":"Tra","g":"s","v":64},{"t":"Tra","g":"s","v":66},{"t":"Tra","g":"s","v":68},{"t":"Tra","g":"s","v":71},{"t":"Tra","g":"s","v":74},{"t":"Tra","g":"s","v":77},{"t":"Tra","g":"s","v":80},{"t":"Tra","g":"s","v":84},{"t":"Tra","g":"s","v":88},{"t":"Tra","g":"s","v":92},
{"t":"Tra","g":"s","v":96},{"t":"Tra","g":"s","v":100},{"t":"Tra","g":"s","v":105},{"t":"Tra","g":"s","v":112},{"t":"Tra","g":"s","v":120},{"t":"Tra","g":"s","v":130},{"t":"Tra","g":"s","v":142},{"t":"Tra","g":"s","v":152},{"t":"Tra","g":"s","v":162},{"t":"Tra","g":"s","v":232},
{"t":"Tra","g":"c","v":85},{"t":"Tra","g":"c","v":105},{"t":"Tra","g":"c","v":120},{"t":"Tra","g":"c","v":132},{"t":"Tra","g":"c","v":142},{"t":"Tra","g":"c","v":150},{"t":"Tra","g":"c","v":156},{"t":"Tra","g":"c","v":161},{"t":"Tra","g":"c","v":166},{"t":"Tra","g":"c","v":170},
{"t":"Tra","g":"c","v":174},{"t":"Tra","g":"c","v":178},{"t":"Tra","g":"c","v":182},{"t":"Tra","g":"c","v":187},{"t":"Tra","g":"c","v":192},{"t":"Tra","g":"c","v":197},{"t":"Tra","g":"c","v":202},{"t":"Tra","g":"c","v":207},{"t":"Tra","g":"c","v":211},{"t":"Tra","g":"c","v":215},
{"t":"Tra","g":"c","v":219},{"t":"Tra","g":"c","v":223},{"t":"Tra","g":"c","v":228},{"t":"Tra","g":"c","v":233},{"t":"Tra","g":"c","v":238},{"t":"Tra","g":"c","v":244},{"t":"Tra","g":"c","v":250},{"t":"Tra","g":"c","v":257},{"t":"Tra","g":"c","v":264},{"t":"Tra","g":"c","v":272},
{"t":"Tra","g":"c","v":280},{"t":"Tra","g":"c","v":290},{"t":"Tra","g":"c","v":300},{"t":"Tra","g":"c","v":312},{"t":"Tra","g":"c","v":324},{"t":"Tra","g":"c","v":336},{"t":"Tra","g":"c","v":350},{"t":"Tra","g":"c","v":364},{"t":"Tra","g":"c","v":376},{"t":"Tra","g":"c","v":388}
]},
"spacing":45,
"resolve":{"scale":{"xOffset":"independent"}},
"vconcat":[
{
"title":{"text":"A","anchor":"start","frame":"group","dx":-105.3,"offset":-47,"baseline":"alphabetic","fontSize":30,"fontWeight":"bold"},
"bounds":"flush","spacing":91,
"resolve":{"scale":{"xOffset":"independent"}},
"hconcat":[
{"width":250,"height":502,
"transform":[{"filter":"datum.g == 'b' && (datum.t == 'Del' || datum.t == 'Ins')"}],
"encoding":{
"x":{"field":"t","type":"nominal","title":null,"scale":{"type":"band","domain":["Del","Ins"],"paddingInner":0.25,"paddingOuter":0.225},"axis":{"labelAngle":0,"tickSize":7,"labelPadding":5.5}},
"y":{"field":"v","type":"quantitative","title":"Count","scale":{"domain":[-1230,26190],"nice":false,"zero":false},"axis":{"values":[0,5000,10000,15000,20000,25000],"format":"d","tickSize":6.5,"labelPadding":5,"titlePadding":15,"labelFlush":false,"labelOverlap":false}}},
"layer":[
{"transform":[{"bin":{"step":500,"anchor":0},"field":"v","as":"vb"},{"window":[{"op":"row_number","as":"r"}],"groupby":["t","g","vb"],"sort":[{"field":"v","order":"ascending"}]},{"calculate":"(datum.r - 1) % 13","as":"j"},{"calculate":"(datum.j % 2 == 1 ? (datum.j + 1) / 2 : -datum.j / 2) + (floor((datum.r - 1) / 13) % 2) * 0.5","as":"k"}],
"mark":{"type":"circle","size":60,"color":"#4f5659","opacity":1},
"encoding":{"xOffset":{"field":"k","type":"quantitative","scale":{"domain":[-10,10],"range":[-42.4,127.6],"nice":false,"zero":false}}}},
{"mark":{"type":"boxplot","extent":1.5,"size":85,"outliers":false,"box":{"fill":"transparent","stroke":"#231815","strokeWidth":2.5},"median":{"color":"#231815","thickness":2.5,"opacity":1},"rule":{"color":"#231815","strokeWidth":3}}}
]},
{"width":362,"height":502,
"transform":[{"filter":"datum.g == 'b' && (datum.t == 'Dup' || datum.t == 'Inv' || datum.t == 'Tra')"}],
"encoding":{
"x":{"field":"t","type":"nominal","title":null,"scale":{"type":"band","domain":["Dup","Inv","Tra"],"paddingInner":0.25,"paddingOuter":0.225},"axis":{"labelAngle":0,"tickSize":7,"labelPadding":5.5}},
"y":{"field":"v","type":"quantitative","title":null,"scale":{"domain":[-11.2,383.4],"nice":false,"zero":false},"axis":{"values":[0,100,200,300],"format":"d","tickSize":6.5,"labelPadding":5,"labelFlush":false,"labelOverlap":false}}},
"layer":[
{"transform":[{"bin":{"step":8,"anchor":0},"field":"v","as":"vb"},{"window":[{"op":"row_number","as":"r"}],"groupby":["t","g","vb"],"sort":[{"field":"v","order":"ascending"}]},{"calculate":"(datum.r - 1) % 9","as":"j"},{"calculate":"(datum.j % 2 == 1 ? (datum.j + 1) / 2 : -datum.j / 2) + (floor((datum.r - 1) / 9) % 2) * 0.5","as":"k"}],
"mark":{"type":"circle","size":60,"color":"#4f5659","opacity":1},
"encoding":{"xOffset":{"field":"k","type":"quantitative","scale":{"domain":[-10,10],"range":[-62.58,147.42],"nice":false,"zero":false}}}},
{"mark":{"type":"boxplot","extent":1.5,"size":85,"outliers":false,"box":{"fill":"transparent","stroke":"#231815","strokeWidth":2.5},"median":{"color":"#231815","thickness":2.5,"opacity":1},"rule":{"color":"#231815","strokeWidth":3}}}
]}
]},
{"spacing":82,
"resolve":{"scale":{"xOffset":"independent"}},
"vconcat":[
{
"title":{"text":"B","anchor":"start","frame":"group","dx":-105.3,"offset":-32,"baseline":"alphabetic","fontSize":30,"fontWeight":"bold"},
"bounds":"flush","spacing":19,
"resolve":{"scale":{"xOffset":"independent"}},
"hconcat":[
{"width":524,"height":152,
"title":{"text":"Del","frame":"group","anchor":"middle","offset":-16.7,"baseline":"bottom"},
"transform":[{"filter":"datum.t == 'Del'"}],
"encoding":{
"x":{"field":"g","type":"nominal","title":null,"scale":{"type":"band","domain":["s","b","c"],"paddingInner":0.25,"paddingOuter":0.225},"axis":{"labelAngle":0,"tickSize":7,"labelPadding":10,"labelLineHeight":28,"labelOverlap":false,"labelExpr":"datum.value == 's' ? ['sniffles', 'only'] : datum.value == 'c' ? ['cuteSV', 'only'] : 'both'"}},
"y":{"field":"v","type":"quantitative","title":"Count","scale":{"domain":[-1250,25910],"nice":false,"zero":false},"axis":{"values":[0,4000,8000,12000,16000,20000,24000],"format":"d","labelExpr":"datum.value % 8000 == 0 ? datum.label : ''","tickSize":6.5,"labelPadding":5,"titlePadding":15,"labelFlush":false,"labelOverlap":false}}},
"layer":[
{"transform":[{"bin":{"step":700,"anchor":0},"field":"v","as":"vb"},{"window":[{"op":"row_number","as":"r"}],"groupby":["t","g","vb"],"sort":[{"field":"v","order":"ascending"}]},{"calculate":"(datum.r - 1) % 21","as":"j"},{"calculate":"(datum.j % 2 == 1 ? (datum.j + 1) / 2 : -datum.j / 2) + (floor((datum.r - 1) / 21) % 2) * 0.5","as":"k"}],
"mark":{"type":"circle","size":38,"color":"#4f5659","opacity":1},
"encoding":{"xOffset":{"field":"k","type":"quantitative","scale":{"domain":[-10,10],"range":[-8.6,131.4],"nice":false,"zero":false}}}},
{"mark":{"type":"boxplot","extent":1.5,"size":123,"outliers":false,"box":{"fill":"transparent","stroke":"#231815","strokeWidth":3},"median":{"color":"#231815","thickness":3,"opacity":1},"rule":{"color":"#231815","strokeWidth":3}}}
]},
{"width":524,"height":152,
"title":{"text":"Ins","frame":"group","anchor":"middle","offset":-16.7,"baseline":"bottom"},
"transform":[{"filter":"datum.t == 'Ins'"}],
"encoding":{
"x":{"field":"g","type":"nominal","title":null,"scale":{"type":"band","domain":["s","b","c"],"paddingInner":0.25,"paddingOuter":0.225},"axis":{"labelAngle":0,"tickSize":7,"labelPadding":10,"labelLineHeight":28,"labelOverlap":false,"labelExpr":"datum.value == 's' ? ['sniffles', 'only'] : datum.value == 'c' ? ['cuteSV', 'only'] : 'both'"}},
"y":{"field":"v","type":"quantitative","title":null,"scale":{"domain":[-1250,25910],"nice":false,"zero":false},"axis":null}},
"layer":[
{"transform":[{"bin":{"step":700,"anchor":0},"field":"v","as":"vb"},{"window":[{"op":"row_number","as":"r"}],"groupby":["t","g","vb"],"sort":[{"field":"v","order":"ascending"}]},{"calculate":"(datum.r - 1) % 21","as":"j"},{"calculate":"(datum.j % 2 == 1 ? (datum.j + 1) / 2 : -datum.j / 2) + (floor((datum.r - 1) / 21) % 2) * 0.5","as":"k"}],
"mark":{"type":"circle","size":38,"color":"#4f5659","opacity":1},
"encoding":{"xOffset":{"field":"k","type":"quantitative","scale":{"domain":[-10,10],"range":[-8.6,131.4],"nice":false,"zero":false}}}},
{"mark":{"type":"boxplot","extent":1.5,"size":123,"outliers":false,"box":{"fill":"transparent","stroke":"#231815","strokeWidth":3},"median":{"color":"#231815","thickness":3,"opacity":1},"rule":{"color":"#231815","strokeWidth":3}}}
]}
]},
{
"title":{"text":" ","anchor":"start","frame":"group","dx":-105.3,"offset":-60,"fontSize":10},
"bounds":"flush","spacing":16,
"resolve":{"scale":{"xOffset":"independent"}},
"hconcat":[
{"width":356,"height":152,
"title":{"text":"Dup","frame":"group","anchor":"middle","offset":-18.6,"baseline":"bottom"},
"transform":[{"filter":"datum.t == 'Dup'"}],
"encoding":{
"x":{"field":"g","type":"nominal","title":null,"scale":{"type":"band","domain":["s","b","c"],"paddingInner":0.25,"paddingOuter":0.225},"axis":{"labelAngle":0,"tickSize":7,"labelPadding":10,"labelLineHeight":28,"labelOverlap":false,"labelExpr":"datum.value == 's' ? ['sniffles', 'only'] : datum.value == 'c' ? ['cuteSV', 'only'] : 'both'"}},
"y":{"field":"v","type":"quantitative","title":"Count","scale":{"domain":[-44,908],"nice":false,"zero":false},"axis":{"values":[0,200,400,600,800],"format":"d","labelExpr":"datum.value % 400 == 0 ? datum.label : ''","tickSize":6.5,"labelPadding":5,"titlePadding":15,"labelFlush":false,"labelOverlap":false}}},
"layer":[
{"transform":[{"bin":{"step":45,"anchor":0},"field":"v","as":"vb"},{"window":[{"op":"row_number","as":"r"}],"groupby":["t","g","vb"],"sort":[{"field":"v","order":"ascending"}]},{"calculate":"(datum.r - 1) % 13","as":"j"},{"calculate":"(datum.j % 2 == 1 ? (datum.j + 1) / 2 : -datum.j / 2) + (floor((datum.r - 1) / 13) % 2) * 0.5","as":"k"}],
"mark":{"type":"circle","size":38,"color":"#4f5659","opacity":1},
"encoding":{"xOffset":{"field":"k","type":"quantitative","scale":{"domain":[-10,10],"range":[-23.28,106.72],"nice":false,"zero":false}}}},
{"mark":{"type":"boxplot","extent":1.5,"size":83,"outliers":false,"box":{"fill":"transparent","stroke":"#231815","strokeWidth":3},"median":{"color":"#231815","thickness":3,"opacity":1},"rule":{"color":"#231815","strokeWidth":3}}}
]},
{"width":356,"height":152,
"title":{"text":"Inv","frame":"group","anchor":"middle","offset":-18.6,"baseline":"bottom"},
"transform":[{"filter":"datum.t == 'Inv'"}],
"encoding":{
"x":{"field":"g","type":"nominal","title":null,"scale":{"type":"band","domain":["s","b","c"],"paddingInner":0.25,"paddingOuter":0.225},"axis":{"labelAngle":0,"tickSize":7,"labelPadding":10,"labelLineHeight":28,"labelOverlap":false,"labelExpr":"datum.value == 's' ? ['sniffles', 'only'] : datum.value == 'c' ? ['cuteSV', 'only'] : 'both'"}},
"y":{"field":"v","type":"quantitative","title":null,"scale":{"domain":[-44,908],"nice":false,"zero":false},"axis":null}},
"layer":[
{"transform":[{"bin":{"step":45,"anchor":0},"field":"v","as":"vb"},{"window":[{"op":"row_number","as":"r"}],"groupby":["t","g","vb"],"sort":[{"field":"v","order":"ascending"}]},{"calculate":"(datum.r - 1) % 13","as":"j"},{"calculate":"(datum.j % 2 == 1 ? (datum.j + 1) / 2 : -datum.j / 2) + (floor((datum.r - 1) / 13) % 2) * 0.5","as":"k"}],
"mark":{"type":"circle","size":38,"color":"#4f5659","opacity":1},
"encoding":{"xOffset":{"field":"k","type":"quantitative","scale":{"domain":[-10,10],"range":[-23.28,106.72],"nice":false,"zero":false}}}},
{"mark":{"type":"boxplot","extent":1.5,"size":83,"outliers":false,"box":{"fill":"transparent","stroke":"#231815","strokeWidth":3},"median":{"color":"#231815","thickness":3,"opacity":1},"rule":{"color":"#231815","strokeWidth":3}}}
]},
{"width":354,"height":152,
"title":{"text":"Tra","frame":"group","anchor":"middle","offset":-18.6,"baseline":"bottom"},
"transform":[{"filter":"datum.t == 'Tra'"}],
"encoding":{
"x":{"field":"g","type":"nominal","title":null,"scale":{"type":"band","domain":["s","b","c"],"paddingInner":0.25,"paddingOuter":0.225},"axis":{"labelAngle":0,"tickSize":7,"labelPadding":10,"labelLineHeight":28,"labelOverlap":false,"labelExpr":"datum.value == 's' ? ['sniffles', 'only'] : datum.value == 'c' ? ['cuteSV', 'only'] : 'both'"}},
"y":{"field":"v","type":"quantitative","title":null,"scale":{"domain":[-44,908],"nice":false,"zero":false},"axis":null}},
"layer":[
{"transform":[{"bin":{"step":45,"anchor":0},"field":"v","as":"vb"},{"window":[{"op":"row_number","as":"r"}],"groupby":["t","g","vb"],"sort":[{"field":"v","order":"ascending"}]},{"calculate":"(datum.r - 1) % 13","as":"j"},{"calculate":"(datum.j % 2 == 1 ? (datum.j + 1) / 2 : -datum.j / 2) + (floor((datum.r - 1) / 13) % 2) * 0.5","as":"k"}],
"mark":{"type":"circle","size":38,"color":"#4f5659","opacity":1},
"encoding":{"xOffset":{"field":"k","type":"quantitative","scale":{"domain":[-10,10],"range":[-23.52,106.48],"nice":false,"zero":false}}}},
{"mark":{"type":"boxplot","extent":1.5,"size":83,"outliers":false,"box":{"fill":"transparent","stroke":"#231815","strokeWidth":3},"median":{"color":"#231815","thickness":3,"opacity":1},"rule":{"color":"#231815","strokeWidth":3}}}
]}
]}
]}
],
"config":{
"view":{"stroke":null},
"font":"Liberation Sans",
"axis":{"domainColor":"#231815","tickColor":"#231815","labelColor":"#231815","titleColor":"#231815","labelFontSize":20,"titleFontSize":20,"titleFontWeight":"normal","grid":false,"domainWidth":1.4,"tickWidth":1.4,"labelFont":"Liberation Sans","titleFont":"Liberation Sans"},
"title":{"color":"#231815","font":"Liberation Sans","fontSize":20,"fontWeight":"normal"}
}
}
